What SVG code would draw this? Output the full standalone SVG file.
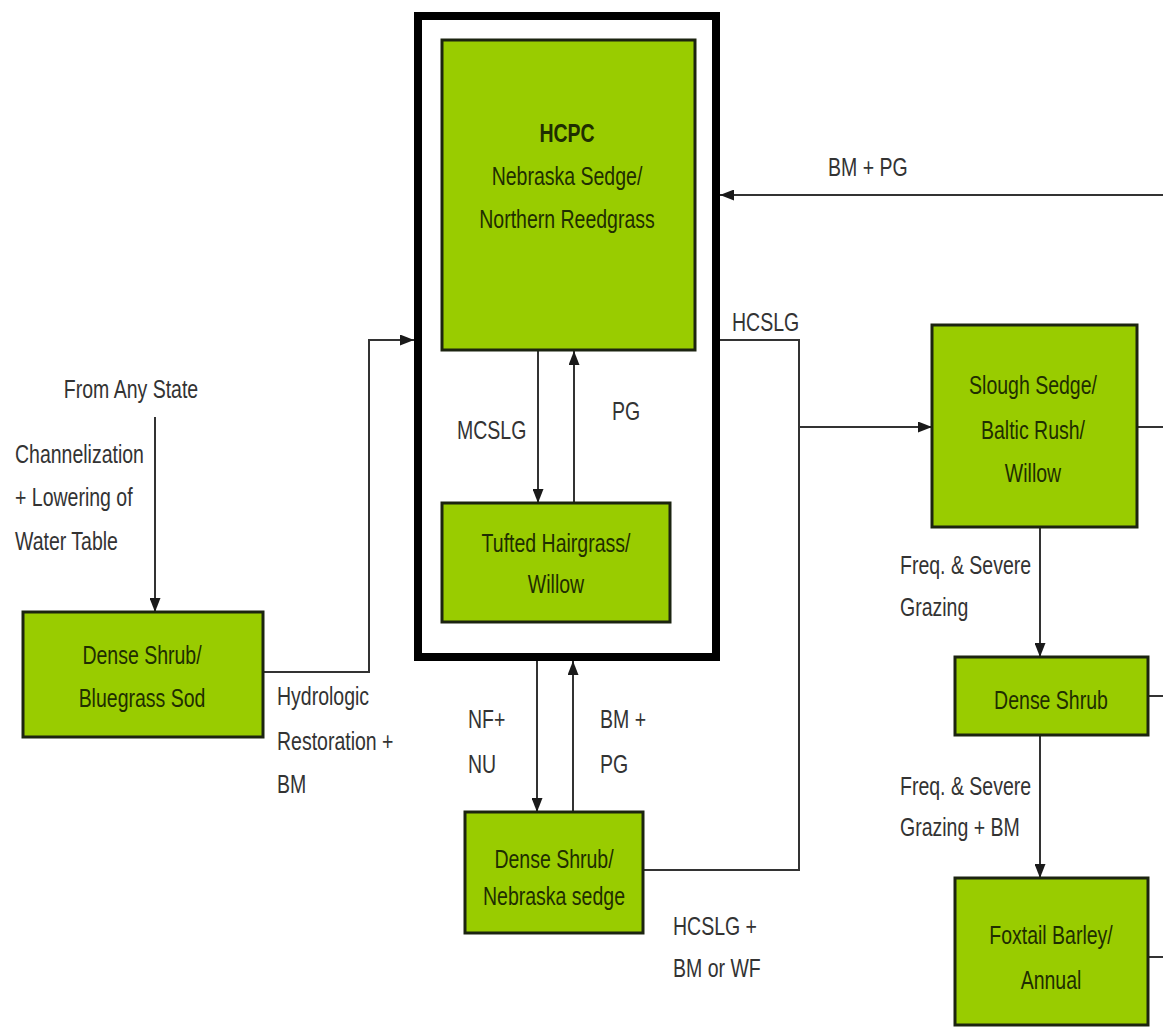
<svg xmlns="http://www.w3.org/2000/svg" width="1163" height="1030" viewBox="0 0 1163 1030">
<style>
.box{fill:#99cc00;stroke:#1c2410;stroke-width:3}
.outer{fill:#ffffff;stroke:#000000;stroke-width:8}
.nt{font-family:"Liberation Sans",Arial,sans-serif;font-size:26px;fill:#1f2e00;text-anchor:middle}
.b{font-weight:bold}
.lb{font-family:"Liberation Sans",Arial,sans-serif;font-size:26px;fill:#333333}
.lbm{text-anchor:middle}
.cn{fill:none;stroke:#333333;stroke-width:2}
</style>
<defs>
<marker id="ah" markerUnits="userSpaceOnUse" markerWidth="14" markerHeight="11" viewBox="0 0 14 11" refX="14" refY="5.5" orient="auto">
<path d="M0,0 L14,5.5 L0,11 z" fill="#1a1a1a"/>
</marker>
</defs>
<rect width="1163" height="1030" fill="#ffffff"/>

<g id="hcpc-state">
<rect class="outer" x="418" y="16" width="298" height="641"/>
</g>

<g id="connectors">
<path class="cn" d="M538,351 V503" marker-end="url(#ah)"/>
<path class="cn" d="M574,503 V351" marker-end="url(#ah)"/>
<path class="cn" d="M537,661 V812" marker-end="url(#ah)"/>
<path class="cn" d="M573,812 V661" marker-end="url(#ah)"/>
<path class="cn" d="M155,417 V612" marker-end="url(#ah)"/>
<path class="cn" d="M263,672 H369 V340 H414" marker-end="url(#ah)"/>
<path class="cn" d="M720,340 H799 V427 H932" marker-end="url(#ah)"/>
<path class="cn" d="M643,870 H799 V427"/>
<path class="cn" d="M1163,195 H720" marker-end="url(#ah)"/>
<path class="cn" d="M1040,527 V657" marker-end="url(#ah)"/>
<path class="cn" d="M1040,735 V878" marker-end="url(#ah)"/>
<path class="cn" d="M1137,427 H1163"/>
<path class="cn" d="M1148,696 H1163"/>
<path class="cn" d="M1148,957 H1163"/>
</g>

<g id="labels">
<text class="lb lbm" transform="translate(131,398) scale(0.75,1)">From Any State</text>
<text class="lb" transform="translate(15,463) scale(0.75,1)"><tspan x="0" y="0">Channelization</tspan><tspan x="0" y="43">+ Lowering of</tspan><tspan x="0" y="87">Water Table</tspan></text>
<text class="lb" transform="translate(277,705) scale(0.75,1)"><tspan x="0" y="0">Hydrologic</tspan><tspan x="0" y="45">Restoration +</tspan><tspan x="0" y="88">BM</tspan></text>
<text class="lb" transform="translate(457,439) scale(0.75,1)">MCSLG</text>
<text class="lb" transform="translate(612,420) scale(0.75,1)">PG</text>
<text class="lb" transform="translate(468,728) scale(0.75,1)"><tspan x="0" y="0">NF+</tspan><tspan x="0" y="45">NU</tspan></text>
<text class="lb" transform="translate(600,728) scale(0.75,1)"><tspan x="0" y="0">BM +</tspan><tspan x="0" y="45">PG</tspan></text>
<text class="lb" transform="translate(673,935) scale(0.75,1)"><tspan x="0" y="0">HCSLG +</tspan><tspan x="0" y="42">BM or WF</tspan></text>
<text class="lb" transform="translate(732,331) scale(0.75,1)">HCSLG</text>
<text class="lb" transform="translate(828,176) scale(0.75,1)">BM + PG</text>
<text class="lb" transform="translate(900,574) scale(0.75,1)"><tspan x="0" y="0">Freq. &amp; Severe</tspan><tspan x="0" y="42">Grazing</tspan></text>
<text class="lb" transform="translate(900,795) scale(0.75,1)"><tspan x="0" y="0">Freq. &amp; Severe</tspan><tspan x="0" y="41">Grazing + BM</tspan></text>
</g>

<g id="hcpc">
<rect class="box" x="442" y="40" width="253" height="310"/>
<text class="nt b" transform="translate(567,142) scale(0.75,1)">HCPC</text>
<text class="nt" transform="translate(567,185) scale(0.75,1)"><tspan x="0" y="0">Nebraska Sedge/</tspan><tspan x="0" y="43">Northern Reedgrass</tspan></text>
</g>

<g id="tufted-hairgrass">
<rect class="box" x="442" y="503" width="228" height="119"/>
<text class="nt" transform="translate(556,552) scale(0.75,1)"><tspan x="0" y="0">Tufted Hairgrass/</tspan><tspan x="0" y="41">Willow</tspan></text>
</g>

<g id="dense-shrub-nebraska">
<rect class="box" x="465" y="812" width="178" height="121"/>
<text class="nt" transform="translate(554,868) scale(0.75,1)"><tspan x="0" y="0">Dense Shrub/</tspan><tspan x="0" y="37">Nebraska sedge</tspan></text>
</g>

<g id="dense-shrub-bluegrass">
<rect class="box" x="23" y="612" width="240" height="125"/>
<text class="nt" transform="translate(142,664) scale(0.75,1)"><tspan x="0" y="0">Dense Shrub/</tspan><tspan x="0" y="43">Bluegrass Sod</tspan></text>
</g>

<g id="slough-sedge">
<rect class="box" x="932" y="325" width="205" height="202"/>
<text class="nt" transform="translate(1033,394) scale(0.75,1)"><tspan x="0" y="0">Slough Sedge/</tspan><tspan x="0" y="45">Baltic Rush/</tspan><tspan x="0" y="88">Willow</tspan></text>
</g>

<g id="dense-shrub">
<rect class="box" x="955" y="657" width="193" height="78"/>
<text class="nt" transform="translate(1051,709) scale(0.75,1)">Dense Shrub</text>
</g>

<g id="foxtail-barley">
<rect class="box" x="955" y="878" width="193" height="147"/>
<text class="nt" transform="translate(1051,944) scale(0.75,1)"><tspan x="0" y="0">Foxtail Barley/</tspan><tspan x="0" y="45">Annual</tspan></text>
</g>
</svg>
